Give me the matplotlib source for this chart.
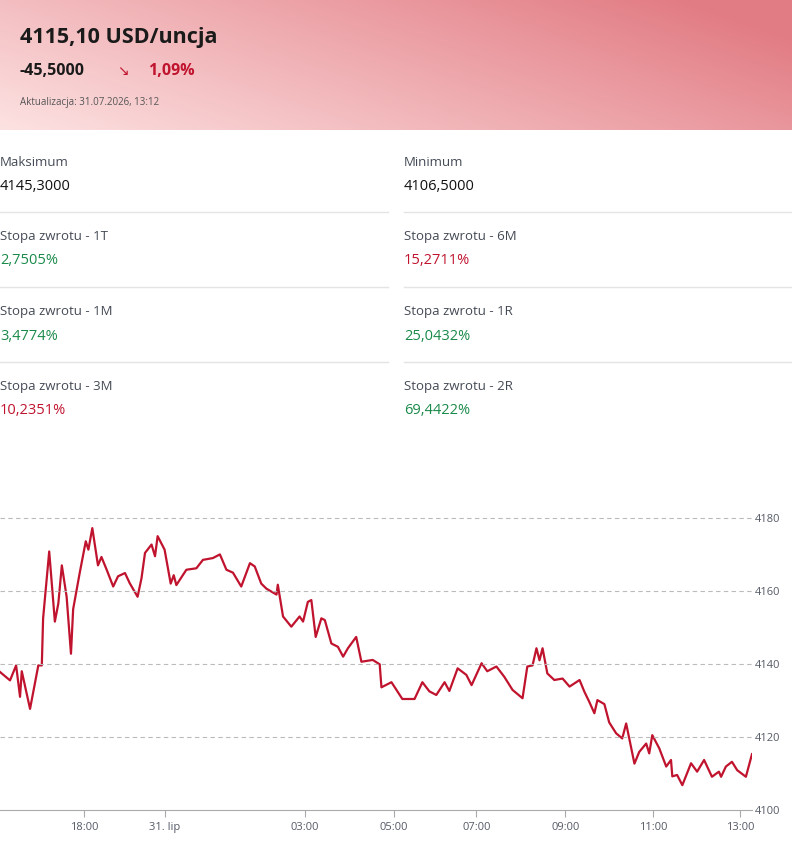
import numpy as np
import matplotlib.pyplot as plt

# trading-hours axis (hours from chart start), price in USD/oz
t = [0.00, 0.23, 0.37, 0.46, 0.50, 0.69, 0.80, 0.88, 0.96, 0.99, 1.13, 1.22, 1.26, 1.34, 1.42,
     1.53, 1.63, 1.68, 1.83, 1.97, 2.03, 2.12, 2.25, 2.33, 2.45, 2.60, 2.71, 2.87, 2.98, 3.16,
     3.25, 3.33, 3.48, 3.56, 3.62, 3.78, 3.92, 3.99, 4.05, 4.28, 4.51, 4.66, 4.89, 5.05, 5.20,
     5.35, 5.54, 5.74, 5.85, 6.00, 6.12, 6.35, 6.38, 6.50, 6.69, 6.88, 6.96, 7.07, 7.15, 7.25,
     7.38, 7.46, 7.61, 7.76, 7.88, 7.99, 8.18, 8.30, 8.56, 8.72,
     8.76, 8.99, 9.24, 9.52, 9.70, 9.86, 10.02, 10.21, 10.32, 10.51, 10.71, 10.83, 11.06, 11.19,
     11.40, 11.58, 11.77, 12.00, 12.11, 12.23, 12.32, 12.39, 12.46, 12.57, 12.73, 12.92, 13.08,
     13.31, 13.42, 13.53, 13.65, 13.72, 13.88, 13.99, 14.15, 14.29, 14.38, 14.57, 14.68, 14.84,
     14.91, 14.98, 15.14, 15.30, 15.41, 15.44, 15.55, 15.67, 15.87, 16.01, 16.17, 16.35, 16.51,
     16.56, 16.67, 16.81, 16.93, 17.13, 17.27]
price = [4137.8, 4135.5, 4139.6, 4131.0, 4138.0, 4127.7, 4134.6, 4139.6, 4139.6, 4152.5, 4170.8,
         4157.5, 4151.6, 4156.6, 4167.0, 4158.4, 4142.8, 4155.0, 4164.9, 4173.6, 4171.3, 4177.2,
         4167.0, 4169.3, 4165.8, 4161.2, 4164.0, 4164.9, 4162.1, 4158.4, 4163.5, 4170.4, 4172.7,
         4169.5, 4175.0, 4171.3, 4162.0, 4164.3, 4161.6, 4165.8, 4166.2, 4168.5, 4169.0, 4170.0,
         4165.8, 4165.0, 4161.2, 4167.6, 4166.7, 4162.0, 4160.6, 4159.0, 4161.7, 4153.0, 4150.2,
         4153.0, 4151.6, 4157.0, 4157.5, 4147.4, 4152.5, 4152.0, 4145.6, 4144.7, 4142.0, 4144.3,
         4147.4, 4140.6, 4141.1, 4139.9,
         4133.6, 4135.0, 4130.4, 4130.4, 4135.0, 4132.5, 4131.5, 4135.0, 4132.6, 4138.8, 4137.0,
         4134.2, 4140.2, 4138.0, 4139.3, 4136.5, 4132.9, 4130.6, 4139.3, 4139.6, 4144.3, 4141.0,
         4144.3, 4137.4, 4135.6, 4136.0, 4133.8, 4135.6, 4132.4, 4129.7, 4126.5, 4130.1, 4129.0,
         4124.0, 4121.0, 4119.6, 4123.7, 4112.7, 4115.9, 4118.2, 4115.5, 4120.5, 4116.9, 4111.9,
         4113.7, 4109.2, 4109.6, 4106.8, 4112.8, 4110.5, 4113.7, 4109.1, 4110.5, 4109.1, 4111.9,
         4113.2, 4110.9, 4109.1, 4115.3]
tick_pos = [1.93, 3.78, 7.0, 9.04, 10.94, 12.98, 15.0, 17.0]
tick_labels = ['18:00', '31. lip', '03:00', '05:00', '07:00', '09:00', '11:00', '13:00']
y_ticks = [4100, 4120, 4140, 4160, 4180]

stats_left = [('Maksimum', '4145,3000', '#111111'), ('Stopa zwrotu - 1T', '2,7505%', '#1a8a4a'),
              ('Stopa zwrotu - 1M', '3,4774%', '#1a8a4a'), ('Stopa zwrotu - 3M', '10,2351%', '#c0132e')]
stats_right = [('Minimum', '4106,5000', '#111111'), ('Stopa zwrotu - 6M', '15,2711%', '#c0132e'),
               ('Stopa zwrotu - 1R', '25,0432%', '#1a8a4a'), ('Stopa zwrotu - 2R', '69,4422%', '#1a8a4a')]

W, H = 792, 865
fig = plt.figure(figsize=(W / 100, H / 100), dpi=100)
plt.rcParams['font.family'] = ['Open Sans', 'DejaVu Sans']

# header gradient
hax = fig.add_axes([0, 1 - 130 / H, 1, 130 / H])
gx = np.linspace(0, 1, 256)
gy = np.linspace(0, 1, 64)
GX, GY = np.meshgrid(gx, gy)
g = np.clip(0.75 * GX + 0.35 * (1 - GY), 0, 1)
c0 = np.array([253, 226, 226]) / 255
c1 = np.array([226, 124, 132]) / 255
img = c0 + (c1 - c0) * g[..., None]
hax.imshow(img, aspect='auto', extent=[0, 1, 0, 1], origin='upper')
hax.axis('off')


def fy(py):
    return 1 - py / H


fig.text(20 / W, fy(38), '4115,10 USD/uncja', fontsize=15.5, fontweight='bold', color='#1a1a1a', va='center')
fig.text(20 / W, fy(71), '-45,5000', fontsize=11.5, fontweight='bold', color='#1a1a1a', va='center')
fig.text(117 / W, fy(71), '↘', fontsize=10, color='#c0132e', va='center', family=['DejaVu Sans'])
fig.text(148 / W, fy(71), '1,09%', fontsize=11.5, fontweight='bold', color='#c0132e', va='center')
fig.text(20 / W, fy(102), 'Aktualizacja: 31.07.2026, 13:12', fontsize=7, color='#555555', va='center')

for col, (x0, x1, stats) in enumerate([(0, 388, stats_left), (404, 792, stats_right)]):
    for i, (lab, val, colr) in enumerate(stats):
        y0 = 162 + i * 75
        fig.text(x0 / W, fy(y0), lab, fontsize=9.5, color='#444a55', va='center')
        fig.text(x0 / W, fy(y0 + 24), val, fontsize=10.5, color=colr, va='center')
        if i < 3:
            fig.add_artist(plt.Line2D([x0 / W, x1 / W], [fy(y0 + 50)] * 2, color='#e4e4e4', lw=1))

ax = fig.add_axes([0, 55 / H, 752 / W, 310 / H])
ax.plot(t, price, color='#c0132e', lw=1.6)
ax.set_xlim(0, 17.27)
ax.set_ylim(4100, 4184.9)
ax.set_xticks(tick_pos)
ax.set_xticklabels(tick_labels, fontsize=8, color='#555a66')
ax.set_yticks(y_ticks)
ax.yaxis.tick_right()
ax.set_yticklabels([str(v) for v in y_ticks], fontsize=8, color='#555a66')
ax.tick_params(axis='y', length=0, pad=2)
ax.tick_params(axis='x', length=5, color='#aaaaaa')
for v in y_ticks[1:]:
    ax.axhline(v, color='#bbbbbb', lw=0.8, ls=(0, (4, 3)))
for s in ['top', 'right', 'left']:
    ax.spines[s].set_visible(False)
ax.spines['bottom'].set_color('#aaaaaa')

fig.savefig('out.png', dpi=100)
